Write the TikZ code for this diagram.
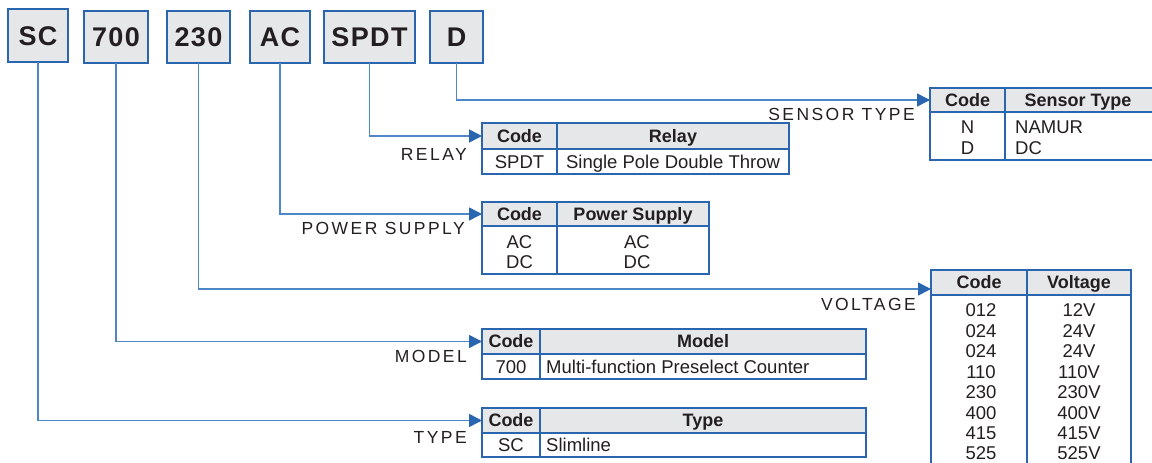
\documentclass[tikz,border=0pt]{standalone}
\usepackage{fontspec}
\setmainfont{Liberation Sans}
\newfontfamily\lblfont[LetterSpace=14]{Liberation Sans}
\newfontfamily\topfont[LetterSpace=5]{Liberation Sans}
\usetikzlibrary{arrows.meta}
\definecolor{boxblue}{HTML}{2A66B0}
\definecolor{lineblue}{HTML}{4D87C7}
\definecolor{boxgray}{HTML}{E6E7E8}
\definecolor{ink}{HTML}{231F20}
\tikzset{
  topbox/.style={draw=boxblue, fill=boxgray, line width=1.3pt, inner sep=0pt, outer sep=0pt,
    anchor=north west, text=ink, font=\topfont\bfseries\fontsize{27}{30}\selectfont,
    text height=19.3pt, text depth=0pt},
  hcell/.style={draw=boxblue, fill=boxgray, line width=1.2pt, inner sep=0pt, outer sep=0pt, anchor=north west},
  bcell/.style={draw=boxblue, fill=white, line width=1.2pt, inner sep=0pt, outer sep=0pt, anchor=north west},
  htxt/.style={text=ink, inner sep=0pt, font=\bfseries\fontsize{18}{20}\selectfont, text height=12.9pt, text depth=0pt},
  btxt/.style={text=ink, inner sep=0pt, font=\fontsize{18.5}{20}\selectfont, text height=13.2pt, text depth=0pt},
  lbl/.style={text=ink, inner sep=0pt, anchor=east, font=\lblfont\fontsize{17.5}{20}\selectfont, text height=12.5pt, text depth=0pt},
  conn/.style={draw=lineblue, line width=1.5pt, -{Triangle[length=13pt,width=13pt,color=boxblue]}}
}
\begin{document}
\begin{tikzpicture}[x=1pt,y=-1pt]
\useasboundingbox (0,0) rectangle (1152,463);
\clip (0,0) rectangle (1152,463);
% top code boxes
\node[topbox, minimum width=60pt, minimum height=53pt] (bsc) at (8,9) {SC};
\node[topbox, minimum width=64pt, minimum height=52pt] (b700) at (84,11) {700};
\node[topbox, minimum width=63pt, minimum height=52pt] (b230) at (167,11) {230};
\node[topbox, minimum width=60pt, minimum height=52pt] (bac) at (250,11) {AC};
\node[topbox, minimum width=91pt, minimum height=52pt] (bspdt) at (324,11) {SPDT};
\node[topbox, minimum width=53pt, minimum height=52pt] (bd) at (430,11) {D};

% Sensor type table
\node[hcell, minimum width=75pt, minimum height=24pt] (senh) at (930,88) {};
\node[hcell, minimum width=160pt, minimum height=24pt] (senh2) at (1005,88) {};
\node[bcell, minimum width=75pt, minimum height=48pt] (senb) at (930,112) {};
\node[bcell, minimum width=160pt, minimum height=48pt] (senb2) at (1005,112) {};
\node[htxt] (t1) at (967.5,100) {Code};
\node[htxt] (t2) at (1078,100) {Sensor Type};
\node[btxt] (t3) at (967.5,127) {N};
\node[btxt] (t4) at (967.5,148) {D};
\node[btxt, anchor=west] (t5) at (1015,127) {NAMUR};
\node[btxt, anchor=west] (t6) at (1015,148) {DC};
\node[lbl] (l1) at (915,114) {SENSOR TYPE};

% Relay table
\node[hcell, minimum width=75pt, minimum height=26pt] (relh) at (482,123) {};
\node[hcell, minimum width=232pt, minimum height=26pt] (relh2) at (557,123) {};
\node[bcell, minimum width=75pt, minimum height=25pt] (relb) at (482,149) {};
\node[bcell, minimum width=232pt, minimum height=25pt] (relb2) at (557,149) {};
\node[htxt] (r1) at (519.5,136) {Code};
\node[htxt] (r2) at (673,136) {Relay};
\node[btxt] (r3) at (519.5,161.5) {SPDT};
\node[btxt] (r4) at (673,161.5) {Single Pole Double Throw};
\node[lbl] (l2) at (467,154) {RELAY};

% Power supply table
\node[hcell, minimum width=75pt, minimum height=24pt] (powh) at (482,202) {};
\node[hcell, minimum width=152pt, minimum height=24pt] (powh2) at (557,202) {};
\node[bcell, minimum width=75pt, minimum height=48pt] (powb) at (482,226) {};
\node[bcell, minimum width=152pt, minimum height=48pt] (powb2) at (557,226) {};
\node[htxt] (p1) at (519.5,214) {Code};
\node[htxt] (p2) at (633,214) {Power Supply};
\node[btxt] (p3) at (519.5,242) {AC};
\node[btxt] (p4) at (519.5,262) {DC};
\node[btxt] (p5) at (637,242) {AC};
\node[btxt] (p6) at (637,262) {DC};
\node[lbl] (l3) at (465,228) {POWER SUPPLY};

% Voltage table
\node[hcell, minimum width=96pt, minimum height=25pt] (volh) at (931,270) {};
\node[hcell, minimum width=104pt, minimum height=25pt] (volh2) at (1027,270) {};
\node[bcell, minimum width=96pt, minimum height=190pt] (volb) at (931,295) {};
\node[bcell, minimum width=104pt, minimum height=190pt] (volb2) at (1027,295) {};
\node[htxt] (v1) at (979,282.5) {Code};
\node[htxt] (v2) at (1079,282.5) {Voltage};
\foreach \c/\v/\yy [count=\i] in {012/12V/310,024/24V/330.5,024/24V/351,110/110V/371.5,230/230V/392,400/400V/412.5,415/415V/433,525/525V/453}{
  \node[btxt] (vc\i) at (981,\yy) {\c};
  \node[btxt] (vv\i) at (1079,\yy) {\v};
}
\node[lbl] (l4) at (916,304) {VOLTAGE};

% Model table
\node[hcell, minimum width=58pt, minimum height=25pt] (modh) at (482,329) {};
\node[hcell, minimum width=326pt, minimum height=25pt] (modh2) at (540,329) {};
\node[bcell, minimum width=58pt, minimum height=25pt] (modb) at (482,354) {};
\node[bcell, minimum width=326pt, minimum height=25pt] (modb2) at (540,354) {};
\node[htxt] (m1) at (511,341.5) {Code};
\node[htxt] (m2) at (703,341.5) {Model};
\node[btxt] (m3) at (511,366.5) {700};
\node[btxt, anchor=west] (m4) at (546,366.5) {Multi-function Preselect Counter};
\node[lbl] (l5) at (467,356) {MODEL};

% Type table
\node[hcell, minimum width=58pt, minimum height=25pt] (typh) at (482,408) {};
\node[hcell, minimum width=326pt, minimum height=25pt] (typh2) at (540,408) {};
\node[bcell, minimum width=58pt, minimum height=24pt] (typb) at (482,433) {};
\node[bcell, minimum width=326pt, minimum height=24pt] (typb2) at (540,433) {};
\node[htxt] (y1) at (511,420.5) {Code};
\node[htxt] (y2) at (703,420.5) {Type};
\node[btxt] (y3) at (511,445) {SC};
\node[btxt, anchor=west] (y4) at (546,445) {Slimline};
\node[lbl] (l6) at (467,437) {TYPE};

% connectors
\draw[conn] (bd.south) |- (senh.west);
\draw[conn] (bspdt.south) |- (relh.west);
\draw[conn] (bac.south) |- (powh.west);
\draw[conn] (b230.south) |- ([yshift=-6.5pt]volh.west);
\draw[conn] (b700.south) |- (modh.west);
\draw[conn] (bsc.south) |- (typh.west);
\end{tikzpicture}
\end{document}
